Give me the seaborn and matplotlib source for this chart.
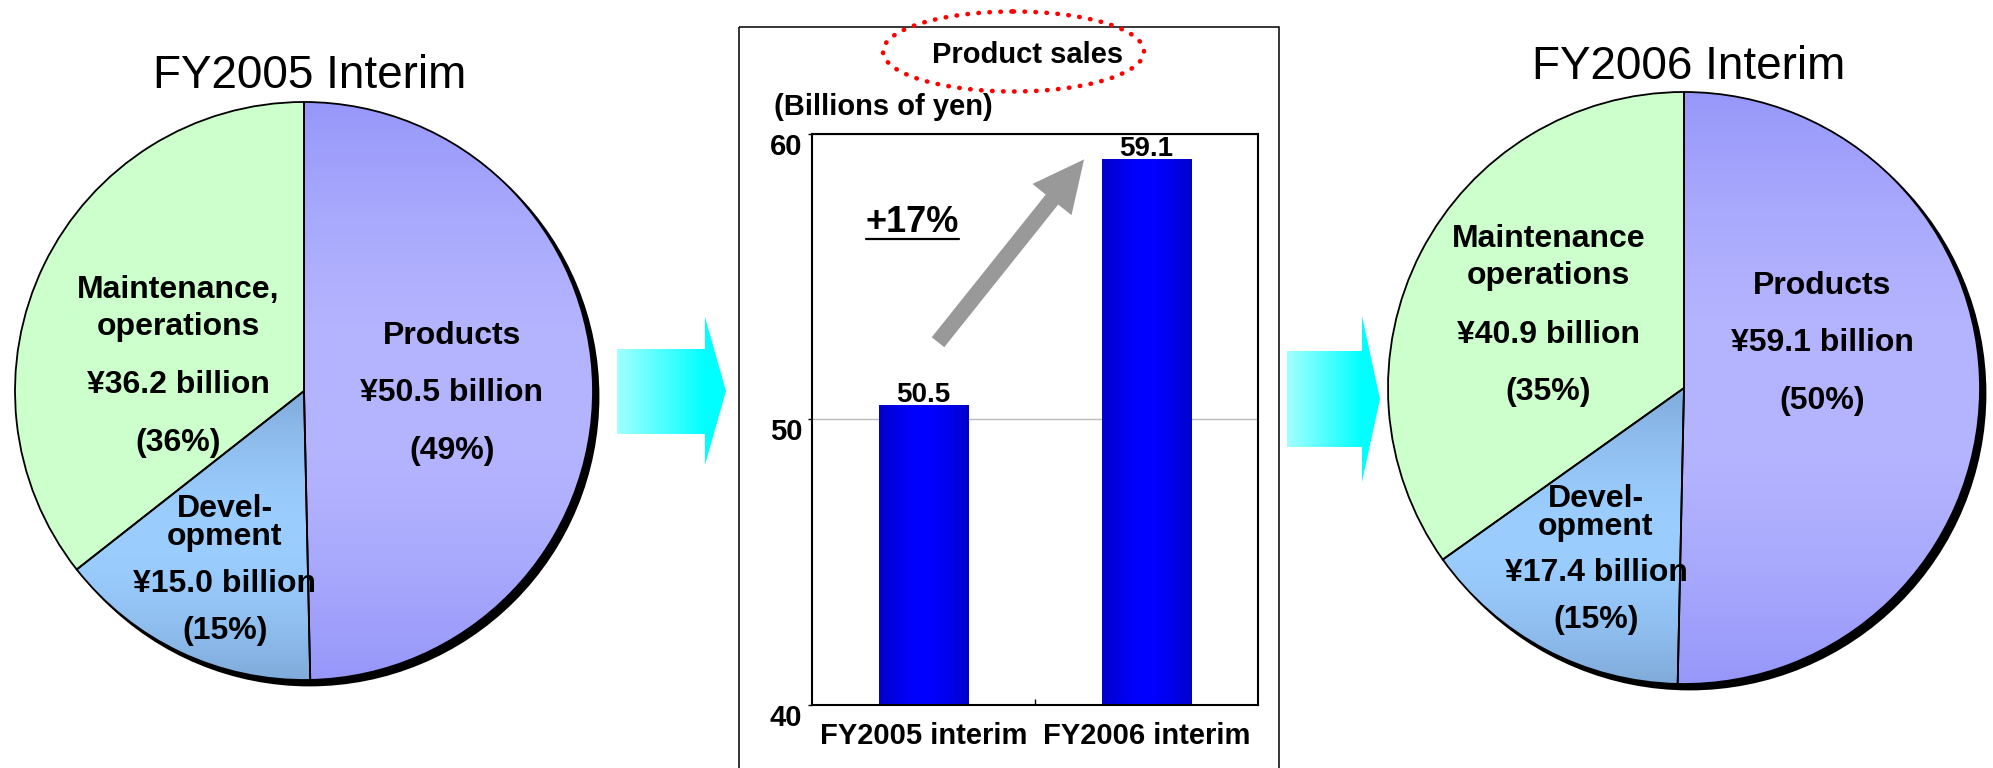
import numpy as np
import pandas as pd
import matplotlib
matplotlib.use("Agg")
import matplotlib.pyplot as plt
import seaborn as sns
from matplotlib.patches import Ellipse, Polygon, Rectangle
from matplotlib.colors import to_rgb
from matplotlib.transforms import ScaledTranslation
from matplotlib.lines import Line2D

# ---- Revenue by segment (billions of yen) ----
segments = ["Products", "Development", "Maintenance, operations"]
revenue_fy2005 = [50.5, 15.0, 36.2]
revenue_fy2006 = [59.1, 17.4, 40.9]
share_fy2005 = [49, 15, 36]
share_fy2006 = [50, 15, 35]
names_fy2005 = [["Products"], ["Devel-", "opment"], ["Maintenance,", "operations"]]
names_fy2006 = [["Products"], ["Devel-", "opment"], ["Maintenance", "operations"]]
pie_titles = ["FY2005 Interim", "FY2006 Interim"]

# ---- Product sales comparison ----
periods = ["FY2005 interim", "FY2006 interim"]
product_sales = [50.5, 59.1]
sales_ticks = [40, 50, 60]

W, H, DPI = 1993, 768, 100
BOLD_FONT = "Liberation Sans"

sns.set_theme(style="white")
plt.rcParams["font.family"] = ["Liberation Sans", "DejaVu Sans"]

fig = plt.figure(figsize=(W / DPI, H / DPI), dpi=DPI)
fig.patch.set_facecolor("white")


def px_rect(x0, y0, x1, y1):
    """Axes rectangle from pixel box (top-left origin)."""
    return [x0 / W, 1 - y1 / H, (x1 - x0) / W, (y1 - y0) / H]


def gradient(c_edge, c_mid, n=256):
    t = np.linspace(0, 1, n)
    k = np.sin(np.pi * t)[:, None]
    e, m = np.array(to_rgb(c_edge)), np.array(to_rgb(c_mid))
    return e + (m - e) * k


# segment fills: (edge colour, centre colour) of each vertical gradient
seg_fills = [("#9797FA", "#B5B5FF"), ("#80ABDA", "#9BCDFF"), ("#CCFFCC", "#CCFFCC")]


def draw_pie(cx, cy, r, values):
    m = 1.06
    ax = fig.add_axes(px_rect(cx - m * r, cy - m * r, cx + m * r, cy + m * r))
    wedges, _ = ax.pie(values, startangle=90, counterclock=False, radius=1,
                       colors=["white"] * len(values),
                       wedgeprops=dict(edgecolor="black", linewidth=1.3))
    # drop shadow on the lower right
    d = 5.5 / r
    ax.add_patch(Ellipse((d, -d), 2.0, 2.0, facecolor="black",
                         edgecolor="black", lw=1.3, zorder=0.2))
    for w, (ce, cm) in zip(wedges, seg_fills):
        w.set_facecolor("none")
        bb = w.get_path().get_extents()
        im = ax.imshow(gradient(ce, cm)[:, None, :],
                       extent=(bb.x0, bb.x1, bb.y0, bb.y1),
                       aspect="auto", zorder=0.5, interpolation="bilinear")
        im.set_clip_path(w)
    ax.set_aspect("auto")
    ax.set_xlim(-m, m)
    ax.set_ylim(-m, m)
    ax.axis("off")
    return ax


draw_pie(304, 391, 289, revenue_fy2005)
draw_pie(1684, 388, 296, revenue_fy2006)

# ---- bar chart of product sales ----
axb = fig.add_axes(px_rect(812, 133.7, 1258, 705))
df = pd.DataFrame({"period": periods, "sales": product_sales})
sns.barplot(data=df, x="period", y="sales", color="#0000FF", saturation=1,
            width=0.4, ax=axb)
bars = axb.containers[0]
bar_grad = gradient("#0000C8", "#0000FF")
y_floor = sales_ticks[0]
for bar in bars:
    bar.set_facecolor("none")
    bar.set_edgecolor("none")
    x0, bw, bh = bar.get_x(), bar.get_width(), bar.get_height()
    im = axb.imshow(bar_grad[None, :, :], extent=(x0, x0 + bw, y_floor, bh),
                    aspect="auto", zorder=2, interpolation="bilinear")
    im.set_clip_path(bar)

axb.bar_label(bars, fmt="%.1f", padding=-2, fontsize=20, fontweight="bold",
              family=BOLD_FONT, color="black")

axb.set_xlim(-0.5, 1.5)
axb.set_ylim(sales_ticks[0], sales_ticks[-1])
axb.set_yticks(sales_ticks)
axb.set_yticklabels([str(t) for t in sales_ticks])
axb.set_xlabel("")
axb.set_ylabel("")
for s in axb.spines.values():
    s.set_visible(True)
    s.set_color("black")
    s.set_linewidth(1.5)
axb.grid(axis="y", color="#BBBBBB", lw=1)
axb.set_axisbelow(True)
axb.tick_params(axis="x", which="major", length=0, pad=12, labelsize=21,
                labelcolor="black")
axb.set_xticks([0.5], minor=True)
axb.tick_params(axis="x", which="minor", bottom=True, direction="in",
                length=4, width=1, color="black")
axb.tick_params(axis="y", left=True, length=3, width=1, direction="out",
                pad=4, labelsize=21, color="black", labelcolor="black")
for lbl in axb.get_xticklabels():
    lbl.set_fontweight("bold")
    lbl.set_fontfamily(BOLD_FONT)
shift = ScaledTranslation(0, -10 / DPI, fig.dpi_scale_trans)
for lbl in axb.get_yticklabels():
    lbl.set_fontweight("bold")
    lbl.set_fontfamily(BOLD_FONT)
    lbl.set_fontsize(21)
    lbl.set_transform(lbl.get_transform() + shift)

# growth arrow from the first bar level up to the second bar
axb.annotate("", xy=(0.72, product_sales[1]), xytext=(0.065, 52.7),
             arrowprops=dict(facecolor="#999999", edgecolor="none", width=11.5,
                             headwidth=36, headlength=37, shrink=0),
             annotation_clip=False)

# ---- overlay in pixel coordinates for titles, labels and decorations ----
ov = fig.add_axes([0, 0, 1, 1])
ov.set_facecolor("none")

# pie titles
ov.text(310, 88, pie_titles[0], ha="center", va="baseline", fontsize=33,
        color="black")
ov.text(1689, 79, pie_titles[1], ha="center", va="baseline", fontsize=33,
        color="black")

# pie segment labels: x centre, line centres (last name line, value, share),
# gap between name lines
label_pos_2005 = [(452, [333, 390, 448], 0), (225, [534, 581, 628], 26),
                  (178, [324, 382, 440], 37.5)]
label_pos_2006 = [(1822, [282.6, 340, 397.6], 0), (1596, [524, 569.5, 617], 27),
                  (1548.5, [273, 331.5, 389], 38)]
LINE_STEP = 28.4  # baseline step of a 23 pt label at linespacing 1.0, pixels


def pie_labels(positions, names, values, shares):
    for (x, ys, gap), nm, v, s in zip(positions, names, values, shares):
        lines = ["\n".join(nm), f"¥{v:.1f} billion", f"({s}%)"]
        for y, line in zip(ys, lines):
            ls = gap / LINE_STEP if gap else 1.2
            ov.text(x, y + 11.4, line, ha="center", va="baseline",
                    multialignment="center", linespacing=ls,
                    fontsize=23, fontweight="bold", color="black")


pie_labels(label_pos_2005, names_fy2005, revenue_fy2005, share_fy2005)
pie_labels(label_pos_2006, names_fy2006, revenue_fy2006, share_fy2006)


# cyan block arrows between panels
def block_arrow(x0, hx, tip, sy0, sy1, hy0, hy1):
    ym = (hy0 + hy1) / 2
    pts = [(x0, sy0), (hx, sy0), (hx, hy0), (tip, ym), (hx, hy1), (hx, sy1),
           (x0, sy1)]
    poly = Polygon(pts, closed=True, facecolor="none", edgecolor="none")
    ov.add_patch(poly)
    n = 256
    t = np.linspace(0, 1, n)
    frac = np.clip((t * (tip - x0)) / (hx - x0), 0, 1)[:, None]
    c0, c1 = np.array(to_rgb("#A3FFFF")), np.array(to_rgb("#00FFFF"))
    arr = c0 + (c1 - c0) * frac
    im = ov.imshow(arr[None, :, :], extent=(x0, tip, hy1, hy0), aspect="auto",
                   interpolation="bilinear", zorder=1)
    im.set_clip_path(poly)


block_arrow(617, 705, 726, 349, 434, 317, 465)
block_arrow(1287, 1362, 1380, 351, 447, 316, 482)

# panel frame around the bar chart
ov.add_patch(Rectangle((739, 27), 540, 800, facecolor="none",
                       edgecolor="black", lw=1.1))

# chart heading with dotted red ring
ov.add_patch(Ellipse((1013.5, 51.5), 261, 80, fill=False, edgecolor="#FF0000",
                     lw=3.3, linestyle=(0, (0.1, 2.3)), capstyle="round"))
ov.text(1027.7, 63, "Product sales", ha="center", va="baseline", fontsize=21,
        fontweight="bold", family=BOLD_FONT, color="black")
ov.text(773.6, 115, "(Billions of yen)", ha="left", va="baseline",
        fontsize=21, fontweight="bold", family=BOLD_FONT, color="black")

growth = round((product_sales[1] / product_sales[0] - 1) * 100)
growth_txt = ov.text(866, 232, f"+{growth}%", ha="left", va="baseline",
                     fontsize=26, fontweight="bold", family=BOLD_FONT,
                     color="black")

ov.set_xlim(0, W)
ov.set_ylim(H, 0)
ov.axis("off")

fig.canvas.draw()
bb = growth_txt.get_window_extent()
ov.add_line(Line2D([bb.x0, bb.x1], [238.5, 238.5], color="black", lw=1.6))

fig.savefig("out.png", dpi=DPI, facecolor="white")
